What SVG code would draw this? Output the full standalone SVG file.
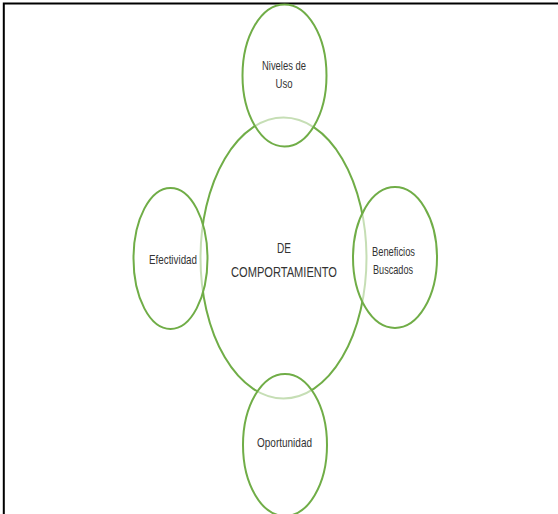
<svg xmlns="http://www.w3.org/2000/svg" width="558" height="514" viewBox="0 0 558 514">
<style>
.e{stroke:#70AD47;stroke-width:2}
.c{fill:#fff}
.s{fill:#fff;fill-opacity:0.6}
.t{font-family:"Liberation Sans Narrow","Liberation Sans",Arial,sans-serif;fill:#333;text-anchor:middle;font-size:13px}
.big{font-size:15.5px}
</style>
<rect width="558" height="514" fill="#fff"/>
<path d="M3.8 514 V3.5 H558" fill="none" stroke="#000" stroke-width="2"/>
<g id="center">
<ellipse class="e c" cx="283.5" cy="258" rx="83" ry="140.5"/>
<text class="t big" x="284" y="253" textLength="14" lengthAdjust="spacingAndGlyphs">DE</text>
<text class="t big" x="284" y="277" textLength="106" lengthAdjust="spacingAndGlyphs">COMPORTAMIENTO</text>
</g>
<g id="top">
<ellipse class="e s" cx="284.5" cy="75.5" rx="42" ry="71"/>
<text class="t" x="284" y="70" textLength="44" lengthAdjust="spacingAndGlyphs">Niveles de</text>
<text class="t" x="284" y="88" textLength="17" lengthAdjust="spacingAndGlyphs">Uso</text>
</g>
<g id="left">
<ellipse class="e s" cx="170.5" cy="258.5" rx="37" ry="70.5"/>
<text class="t" x="173" y="264" textLength="48" lengthAdjust="spacingAndGlyphs">Efectividad</text>
</g>
<g id="right">
<ellipse class="e s" cx="395" cy="257.5" rx="42" ry="70.5"/>
<text class="t" x="393.5" y="256" textLength="43" lengthAdjust="spacingAndGlyphs">Beneficios</text>
<text class="t" x="393" y="274" textLength="40" lengthAdjust="spacingAndGlyphs">Buscados</text>
</g>
<g id="bottom">
<ellipse class="e s" cx="285" cy="445" rx="42" ry="71"/>
<text class="t" x="284.5" y="447" textLength="55" lengthAdjust="spacingAndGlyphs">Oportunidad</text>
</g>
<g id="connectors"/>
</svg>
